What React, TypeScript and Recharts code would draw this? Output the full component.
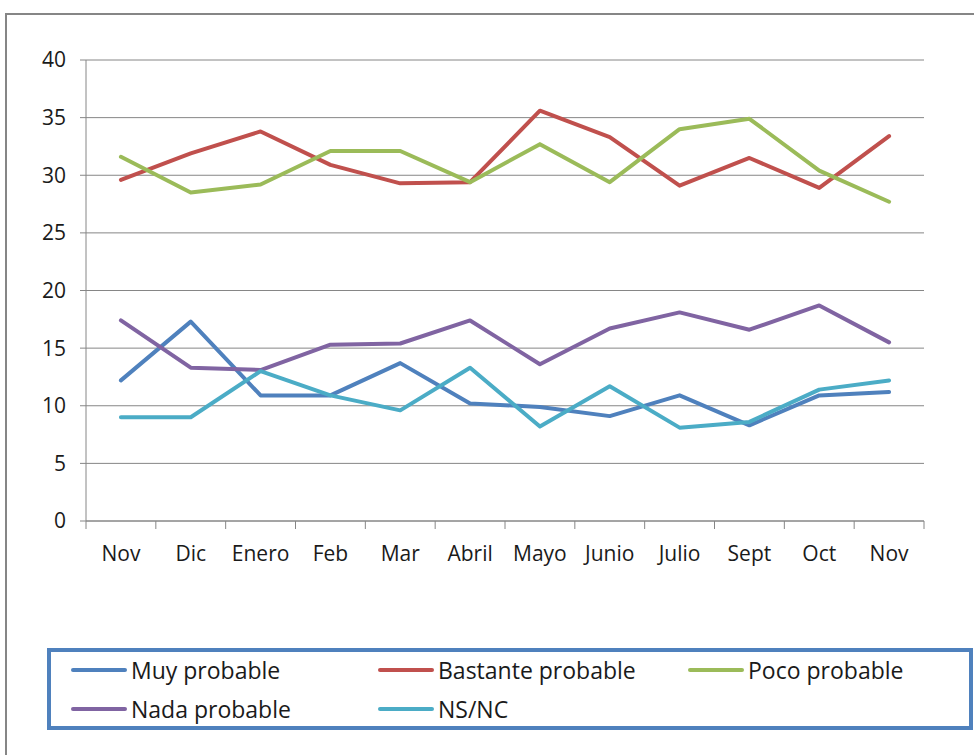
import React from "react";
import { LineChart, Line, XAxis, YAxis, CartesianGrid, Legend } from "recharts";

const months = ["Nov", "Dic", "Enero", "Feb", "Mar", "Abril", "Mayo", "Junio", "Julio", "Sept", "Oct", "Nov"];
const muyProbable = [12.2, 17.3, 10.9, 10.9, 13.7, 10.2, 9.9, 9.1, 10.9, 8.3, 10.9, 11.2];
const bastanteProbable = [29.6, 31.9, 33.8, 30.9, 29.3, 29.4, 35.6, 33.3, 29.1, 31.5, 28.9, 33.4];
const pocoProbable = [31.6, 28.5, 29.2, 32.1, 32.1, 29.4, 32.7, 29.4, 34.0, 34.9, 30.4, 27.7];
const nadaProbable = [17.4, 13.3, 13.1, 15.3, 15.4, 17.4, 13.6, 16.7, 18.1, 16.6, 18.7, 15.5];
const nsnc = [9.0, 9.0, 13.0, 10.9, 9.6, 13.3, 8.2, 11.7, 8.1, 8.6, 11.4, 12.2];
const yTicks = [0, 5, 10, 15, 20, 25, 30, 35, 40];

const series = [
  { key: "muy", name: "Muy probable", values: muyProbable, color: "#4F81BD" },
  { key: "bastante", name: "Bastante probable", values: bastanteProbable, color: "#C0504D" },
  { key: "poco", name: "Poco probable", values: pocoProbable, color: "#9BBB59" },
  { key: "nada", name: "Nada probable", values: nadaProbable, color: "#8064A2" },
  { key: "nsnc", name: "NS/NC", values: nsnc, color: "#4BACC6" },
];

const data = months.map((m, i) => {
  const row: Record<string, string | number> = { month: m };
  series.forEach((s) => {
    row[s.key] = s.values[i];
  });
  return row;
});

const W = 974;
const H = 755;
const PLOT_LEFT = 86;
const PLOT_RIGHT = 924;
const PLOT_TOP = 60;
const PLOT_BOTTOM = 521;
const BAND = (PLOT_RIGHT - PLOT_LEFT) / months.length;
const FONT = "'Open Sans', 'Noto Sans', sans-serif";
const TEXT = "#1a1a1a";

const XTick = (props: any) => {
  const { x, y, payload, index } = props;
  const half = BAND / 2;
  return (
    <g>
      <line x1={x - half} x2={x - half} y1={y} y2={y + 8} stroke="#868686" strokeWidth={1} />
      {index === months.length - 1 && (
        <line x1={x + half} x2={x + half} y1={y} y2={y + 8} stroke="#868686" strokeWidth={1} />
      )}
      <text x={x} y={y} dy={40} textAnchor="middle" fill={TEXT} fontSize={21} fontFamily={FONT}>
        {payload.value}
      </text>
    </g>
  );
};

const LegendContent = () => {
  return (
    <div
      style={{
        boxSizing: "border-box",
        width: "100%",
        height: "100%",
        border: "4px solid #4F81BD",
        position: "relative",
        fontFamily: FONT,
        fontSize: 23,
        color: TEXT,
      }}
    >
      {series.map((s, i) => {
        const col = i % 3;
        const row = Math.floor(i / 3);
        const left = [20, 327, 637][col];
        const top = row * 39 - 2;
        return (
          <div
            key={s.key}
            style={{
              position: "absolute",
              left,
              top,
              height: 40,
              display: "flex",
              alignItems: "center",
              whiteSpace: "nowrap",
            }}
          >
            <span
              style={{
                display: "inline-block",
                width: 56,
                height: 4,
                borderRadius: 2,
                background: s.color,
                marginRight: 4,
              }}
            />
            <span>{s.name}</span>
          </div>
        );
      })}
    </div>
  );
};

export default function App() {
  return (
    <div style={{ position: "absolute", left: 0, top: 0, width: W, height: H, background: "#fff", overflow: "hidden" }}>
      <div
        style={{
          position: "absolute",
          left: 5,
          top: 13,
          width: 1000,
          height: 800,
          border: "2px solid #868686",
          boxSizing: "border-box",
        }}
      />
      <div style={{ position: "absolute", left: 0, top: 0 }}>
        <LineChart
          width={W}
          height={H}
          data={data}
          margin={{ top: PLOT_TOP, right: W - PLOT_RIGHT, left: PLOT_LEFT - 40, bottom: H - PLOT_BOTTOM - 30 }}
        >
          <CartesianGrid horizontal={true} vertical={false} stroke="#868686" strokeWidth={1} />
          <XAxis
            dataKey="month"
            interval={0}
            height={30}
            padding={{ left: BAND / 2, right: BAND / 2 }}
            axisLine={{ stroke: "#868686" }}
            tickLine={false}
            tickSize={0}
            tickMargin={0}
            tick={<XTick />}
          />
          <YAxis
            width={40}
            domain={[0, 40]}
            ticks={yTicks}
            interval={0}
            axisLine={{ stroke: "#868686" }}
            tickLine={{ stroke: "#868686" }}
            tickSize={6}
            tickMargin={14}
            tick={{ fill: TEXT, fontSize: 21, fontFamily: FONT }}
          />
          <Legend
            layout="horizontal"
            verticalAlign="middle"
            align="center"
            content={<LegendContent />}
            wrapperStyle={{ position: "absolute", left: 47, top: 648, width: 926, height: 82 }}
          />
          {series.map((s) => (
            <Line
              key={s.key}
              dataKey={s.key}
              name={s.name}
              stroke={s.color}
              strokeWidth={4}
              dot={false}
              activeDot={false}
              strokeLinejoin="round"
              strokeLinecap="round"
              isAnimationActive={false}
            />
          ))}
        </LineChart>
      </div>
    </div>
  );
}
